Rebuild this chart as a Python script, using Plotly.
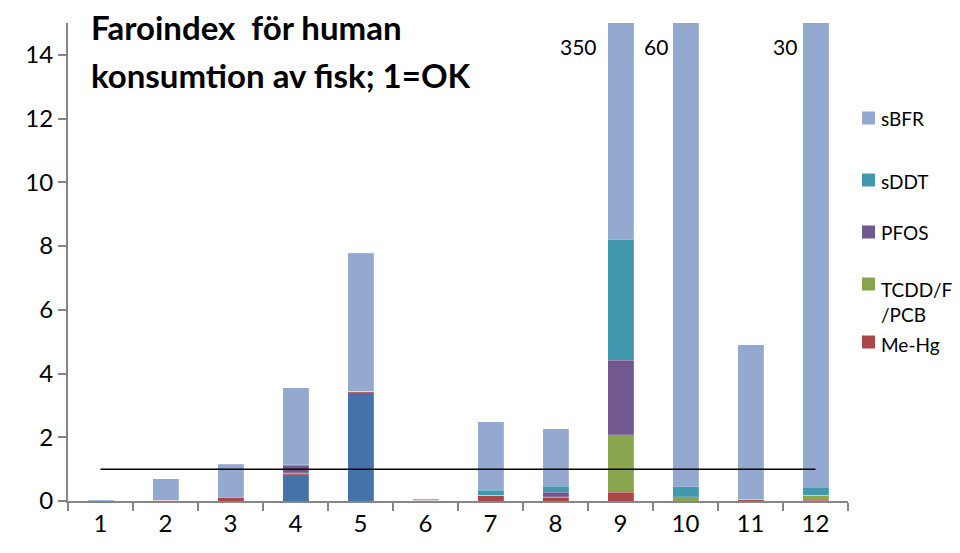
import plotly.graph_objects as go

# Sampling sites 1-12
sites = ["1", "2", "3", "4", "5", "6", "7", "8", "9", "10", "11", "12"]

# Hazard index contributions per substance group (stacked bottom -> top)
ovrigt = [0, 0, 0, 0.82, 3.39, 0, 0, 0, 0, 0, 0, 0]
me_hg = [0, 0.02, 0.10, 0.04, 0.06, 0.02, 0.18, 0.10, 0.28, 0, 0.05, 0.02]
tcdd = [0, 0, 0, 0.02, 0, 0, 0, 0.03, 1.80, 0.13, 0, 0.16]
pfos = [0, 0, 0, 0.22, 0, 0, 0, 0.15, 2.33, 0, 0, 0]
sddt = [0, 0, 0.02, 0.03, 0, 0, 0.16, 0.18, 3.79, 0.31, 0.04, 0.25]
sbfr = [0.02, 0.68, 1.03, 2.42, 4.33, 0.05, 2.15, 1.81, 341.8, 59.56, 4.81, 29.57]

# Acceptable level: index 1 = OK
ok_level = 1

# Sites whose total runs off the axis get their total written beside the bar
offscale_sites = ["9", "10", "12"]
label_shift = {"9": -42, "10": -30, "12": -31}

series = [
    ("Övrigt", ovrigt, "#4572A7", False),
    ("Me-Hg", me_hg, "#AA4643", True),
    ("TCDD/F<br>/PCB", tcdd, "#89A54E", True),
    ("PFOS", pfos, "#71588F", True),
    ("sDDT", sddt, "#4198AF", True),
    ("sBFR", sbfr, "#93A9CF", True),
]

FONT = "Lato, 'Open Sans', sans-serif"
W, H = 960, 553
M_L, M_R, M_T, M_B = 68, 112, 23, 52

fig = go.Figure()
for name, vals, color, _ in series:
    fig.add_trace(go.Bar(
        x=sites, y=vals, name=name.replace("<br>", ""),
        marker=dict(color=color, line=dict(color="rgba(255,255,255,0.35)", width=0.5)),
        showlegend=False,
    ))

fig.add_trace(go.Scatter(
    x=[sites[0], sites[-1]], y=[ok_level, ok_level], mode="lines",
    line=dict(color="black", width=1.5), showlegend=False, hoverinfo="skip",
))

series_vals = [s[1] for s in series]
for site in offscale_sites:
    idx = sites.index(site)
    total = sum(v[idx] for v in series_vals)
    # annotation x on a category axis is given as the category's position index
    fig.add_annotation(
        x=idx, y=14.25, text=f"{round(total)}", showarrow=False,
        xshift=label_shift[site], font=dict(size=21, color="black", family=FONT),
    )

# Title, two lines
for text, ypix in [("Faroindex  för human", 27), ("konsumtion av fisk; 1=OK", 75)]:
    fig.add_annotation(
        xref="paper", yref="paper", x=(89 - M_L) / (W - M_L - M_R),
        y=(H - M_B - ypix) / (H - M_T - M_B), xanchor="left", yanchor="middle",
        text=f"<b>{text}</b>", showarrow=False,
        font=dict(size=33, color="black", family=FONT),
    )

# Legend drawn as swatches + labels (top entry = top of stack)
pw, ph = W - M_L - M_R, H - M_T - M_B
def px_x(x):
    return (x - M_L) / pw
def px_y(y):
    return (H - M_B - y) / ph

legend_rows = [  # (series index, swatch centre y, text centre y)
    (5, 118, 119),
    (4, 180, 181),
    (3, 232, 232),
    (2, 284, 302),
    (1, 342, 344),
]
for idx, sy, ty in legend_rows:
    name, _, color, _ = series[idx]
    fig.add_shape(
        type="rect", xref="paper", yref="paper",
        x0=px_x(862), x1=px_x(875), y0=px_y(sy + 6.5), y1=px_y(sy - 6.5),
        fillcolor=color, line=dict(width=0),
    )
    fig.add_annotation(
        xref="paper", yref="paper", x=px_x(879), y=px_y(ty),
        xanchor="left", yanchor="middle", align="left", text=name,
        showarrow=False, font=dict(size=19, color="black", family=FONT),
    )

fig.update_layout(
    width=W, height=H,
    margin=dict(l=M_L, r=M_R, t=M_T, b=M_B),
    paper_bgcolor="white", plot_bgcolor="white",
    barmode="stack", bargap=0.6, showlegend=False,
    font=dict(family=FONT, color="black"),
    xaxis=dict(
        type="category", range=[-0.5, 11.5], showline=True,
        linecolor="#868686", linewidth=2,
        ticks="outside", ticklen=8, tickcolor="#868686", tickwidth=2,
        tickson="boundaries", tickfont=dict(size=24, family=FONT),
        showgrid=False, zeroline=False,
    ),
    yaxis=dict(
        range=[0, 15], tickvals=[0, 2, 4, 6, 8, 10, 12, 14],
        showline=True, linecolor="#868686", linewidth=2,
        ticks="outside", ticklen=8, tickcolor="#868686", tickwidth=2,
        tickfont=dict(size=24, family=FONT), showgrid=False, zeroline=False,
    ),
)

fig.write_html("out.html")
